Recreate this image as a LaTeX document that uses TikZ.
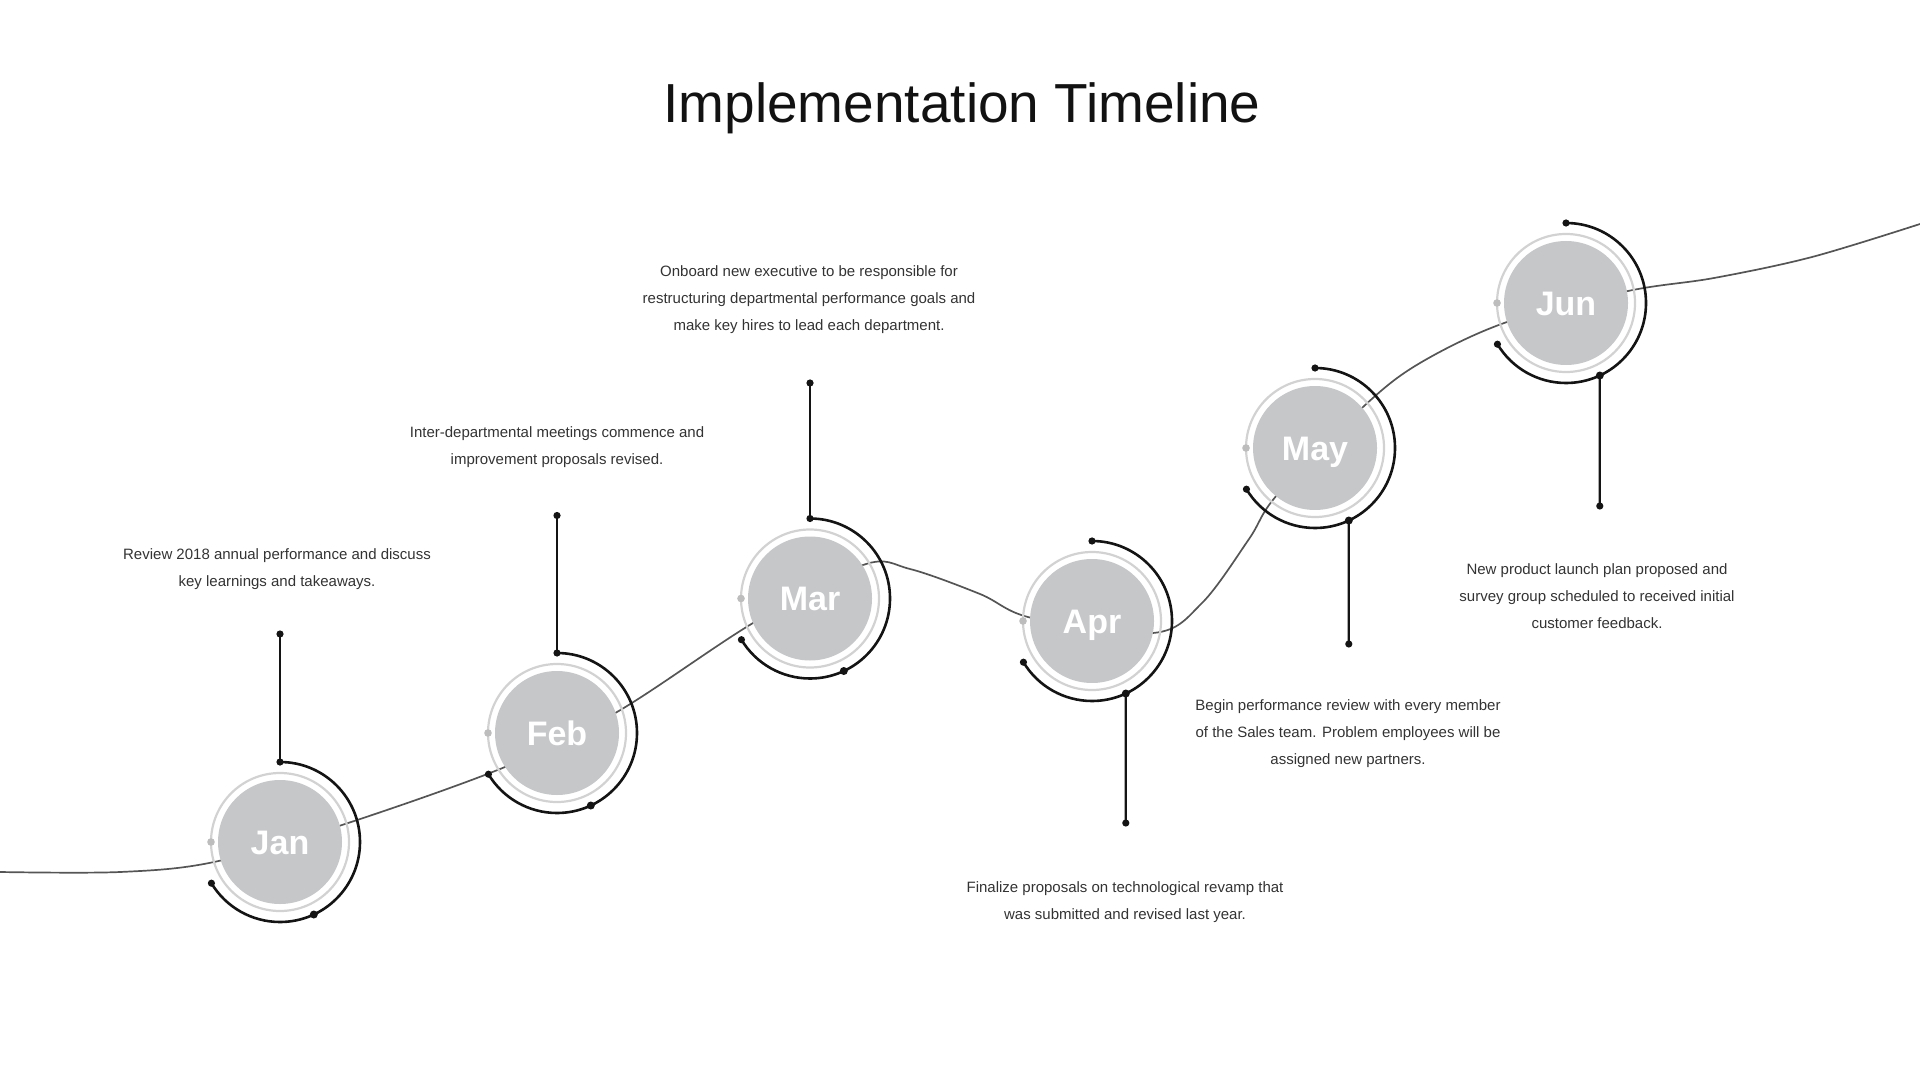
\documentclass[tikz,border=0pt]{standalone}
\usepackage{fontspec}
\setmainfont{Liberation Sans}
\definecolor{fillgray}{HTML}{C6C7C9}
\definecolor{ringgray}{HTML}{D2D2D2}
\definecolor{dotgray}{HTML}{BDBDBD}
\definecolor{curvegray}{HTML}{555555}
\definecolor{txtgray}{HTML}{333333}
\begin{document}
\begin{tikzpicture}[x=0.5pt,y=0.5pt,
  month/.style={circle, fill=fillgray, minimum size=62pt, inner sep=0pt, text=white, text height=12.2pt, text depth=0pt, font=\bfseries\fontsize{17}{17}\selectfont},
  ringline/.style={draw=ringgray, line width=1.1pt},
  blackarc/.style={draw=black!92, line width=1.3pt},
  stem/.style={draw=black!92, line width=1.1pt},
  curveline/.style={draw=curvegray, line width=0.85pt},
  desc/.style={align=center, text=txtgray, font=\fontsize{7.5}{13.5}\selectfont},
  titletext/.style={font=\fontsize{27.5}{30}\selectfont, text=black!93}
]
\useasboundingbox (0,0) rectangle (1920,-1080);

\node[titletext] (title) at (962,-108) {Implementation Timeline};

% connecting curve (drawn first, hidden under the month discs)
\draw[curveline] plot[smooth, tension=0.55] coordinates {
  (0,-872) (120,-872) (214,-862) (342,-825) (505,-767) (617,-712) (753,-623)
  (863,-565) (910,-569) (980,-594) (1032,-618) (1153,-633) (1202,-603)
  (1249,-539) (1277,-495) (1363,-407) (1420,-363) (1507,-322) (1628,-291)
  (1714,-278) (1812,-257) (1920,-224)};

\foreach \n/\lab/\x/\y in {jan/Jan/280/842, feb/Feb/557/733, mar/Mar/810/598.5,
                           apr/Apr/1092/621, may/May/1315/448, jun/Jun/1566/303}{
  \node[month] (\n) at (\x,-\y) {\lab};
  \draw[ringline] (\n.center) circle[radius=34.5pt];
  \fill[dotgray] (\n.center) ++(180:34.5pt) circle[radius=1.9pt];
  \draw[blackarc] (\n.center) ++(90:40pt) arc[start angle=90, end angle=-149, radius=40pt];
  \path (\n.center) ++(90:40pt) coordinate (\n-top);
  \path (\n.center) ++(-65:40pt) coordinate (\n-low);
  \path (\n.center) ++(211:40pt) coordinate (\n-end);
  \fill[black!92] (\n-top) circle[radius=1.8pt];
  \fill[black!92] (\n-low) circle[radius=2pt];
  \fill[black!92] (\n-end) circle[radius=1.8pt];
}

% stems
\coordinate (janstem) at (280,-634);
\coordinate (febstem) at (557,-515.5);
\coordinate (marstem) at (810,-383);
\coordinate (aprstem) at (1125.8,-823);
\coordinate (maystem) at (1348.8,-644);
\coordinate (junstem) at (1599.8,-506);
\draw[stem] (jan-top) -- (janstem);
\draw[stem] (feb-top) -- (febstem);
\draw[stem] (mar-top) -- (marstem);
\draw[stem] (apr-low) -- (aprstem);
\draw[stem] (may-low) -- (maystem);
\draw[stem] (jun-low) -- (junstem);
\foreach \s in {janstem,febstem,marstem,aprstem,maystem,junstem}{
  \fill[black!92] (\s) circle[radius=1.8pt];
}

% descriptions
\node[desc] (jantext) at (277,-569.5) {Review 2018 annual performance and discuss\\key learnings and takeaways.};
\node[desc] (febtext) at (557,-447) {Inter-departmental meetings commence and\\improvement proposals revised.};
\node[desc] (martext) at (809,-299.5) {Onboard new executive to be responsible for\\restructuring departmental performance goals and\\make key hires to lead each department.};
\node[desc] (aprtext) at (1125,-902.5) {Finalize proposals on technological revamp that\\was submitted and revised last year.};
\node[desc] (maytext) at (1348,-733.5) {Begin performance review with every member\\of the Sales team. Problem employees will be\\assigned new partners.};
\node[desc] (juntext) at (1597,-596) {New product launch plan proposed and\\survey group scheduled to received initial\\customer feedback.};
\end{tikzpicture}
\end{document}
